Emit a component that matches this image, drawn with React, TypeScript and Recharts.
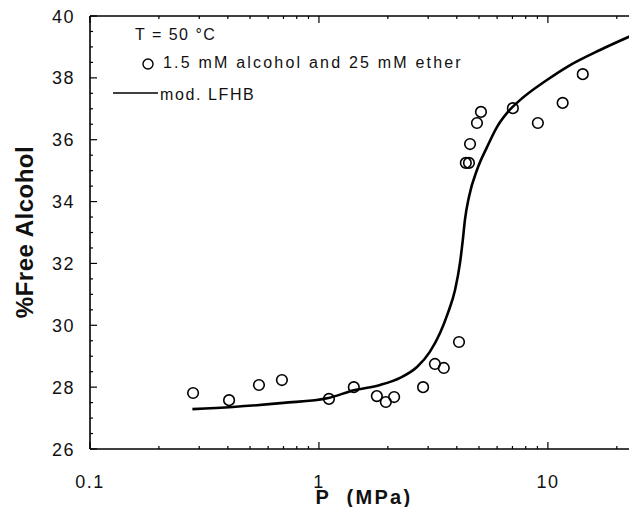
import {
  ComposedChart,
  Line,
  ReferenceLine,
  Scatter,
  XAxis,
  YAxis,
} from "recharts";

// measured pressure (MPa) and % free alcohol
const expP = [0.282, 0.405, 0.547, 0.689, 1.106, 1.42, 1.79, 1.96, 2.13, 2.85, 3.21, 3.51, 4.09, 4.38, 4.52, 4.57, 4.9, 5.1, 7.03, 9.04, 11.6, 14.2];
const expY = [27.81, 27.58, 28.07, 28.23, 27.62, 28.0, 27.71, 27.52, 27.68, 28.0, 28.75, 28.62, 29.46, 35.25, 35.25, 35.86, 36.54, 36.9, 37.02, 36.54, 37.19, 38.12];

// mod. LFHB model curve
const fitP = [0.28, 0.42, 0.7, 1.1, 1.42, 1.85, 2.26, 2.68, 3.05, 3.38, 3.66, 3.93, 4.13, 4.25, 4.34, 4.52, 4.9, 5.42, 5.99, 6.69, 7.55, 9.9, 12.1, 16.9, 22.8];
const fitY = [27.29, 27.36, 27.49, 27.65, 27.9, 28.07, 28.3, 28.65, 29.14, 29.75, 30.4, 31.14, 32.01, 32.76, 33.4, 34.15, 35.02, 35.76, 36.41, 36.9, 37.28, 37.93, 38.35, 38.9, 39.34];

const xTicks = [0.1, 0.2, 0.3, 0.4, 0.5, 0.6, 0.7, 0.8, 0.9, 1, 2, 3, 4, 5, 6, 7, 8, 9, 10, 20];
const xMajor = [0.1, 1, 10];
const yTicks = [26, 26.5, 27, 27.5, 28, 28.5, 29, 29.5, 30, 30.5, 31, 31.5, 32, 32.5, 33, 33.5, 34, 34.5, 35, 35.5, 36, 36.5, 37, 37.5, 38, 38.5, 39, 39.5, 40];
const yMajor = [26, 28, 30, 32, 34, 36, 38, 40];

const experiment = expP.map((p, i) => ({ p, y: expY[i] }));
const model = fitP.map((p, i) => ({ p, y: fitY[i] }));

// chart sits at the very top of the page (body margins collapsed away)
const W = 629;
const H = 515;
const TOP = 16;
const PLOT_W = 547;
const PLOT_H = 433;
const font = "'Liberation Sans', Arial, Helvetica, sans-serif";
const ink = "#111";

function XTick({ x, y, payload }: any) {
  const v = payload.value;
  const major = xMajor.includes(v);
  const len = major ? 7 : 3;
  return (
    <g>
      <line x1={x} x2={x} y1={y} y2={y - len} stroke="#000" strokeWidth={1.2} />
      <line x1={x} x2={x} y1={y - PLOT_H} y2={y - PLOT_H + len} stroke="#000" strokeWidth={1.2} />
      {major && (
        <text x={x} y={y + 39} textAnchor="middle" fontFamily={font} fontSize={18} letterSpacing={1.5} fill={ink}>
          {v}
        </text>
      )}
    </g>
  );
}

function YTick({ x, y, payload }: any) {
  const v = payload.value;
  const major = yMajor.includes(v);
  return (
    <g>
      <line x1={x} x2={x + (major ? 7 : 3)} y1={y} y2={y} stroke="#000" strokeWidth={1.2} />
      <line x1={x + PLOT_W} x2={x + PLOT_W - (major ? 5 : 2)} y1={y} y2={y} stroke="#000" strokeWidth={1.6} />
      {major && (
        <text x={x - 15} y={y + 6.5} textAnchor="end" fontFamily={font} fontSize={18} letterSpacing={1.5} fill={ink}>
          {v}
        </text>
      )}
    </g>
  );
}

function OpenCircle({ cx, cy }: any) {
  return <circle cx={cx} cy={cy} r={5.3} fill="none" stroke="#000" strokeWidth={1.6} />;
}

export default function App() {
  return (
    <div style={{ width: W, height: H, marginTop: -8, marginBottom: -8 }}>
      <ComposedChart width={W} height={H} margin={{ top: TOP, right: 0, bottom: 0, left: 0 }}>
        <XAxis
          dataKey="p"
          type="number"
          scale="log"
          domain={[0.1, 24.5]}
          allowDataOverflow
          ticks={xTicks}
          interval={0}
          tickSize={0}
          tickMargin={0}
          tickLine={false}
          tick={<XTick />}
          height={H - TOP - PLOT_H}
          axisLine={{ stroke: "#000", strokeWidth: 1.6 }}
        />
        <YAxis
          dataKey="y"
          type="number"
          domain={[26, 40]}
          allowDataOverflow
          ticks={yTicks}
          interval={0}
          tickSize={0}
          tickMargin={0}
          tickLine={false}
          tick={<YTick />}
          width={82}
          axisLine={{ stroke: "#000", strokeWidth: 1.6 }}
        />
        <ReferenceLine y={40} stroke="#000" strokeWidth={1.6} />
        <Line
          data={model}
          dataKey="y"
          type="monotone"
          stroke="#000"
          strokeWidth={2.6}
          dot={false}
          isAnimationActive={false}
        />
        <Scatter data={experiment} dataKey="y" shape={<OpenCircle />} isAnimationActive={false} />

        {/* legend block, top left */}
        <text x={127} y={40} fontFamily={font} fontSize={16} letterSpacing={1.5} fill={ink}>
          T = 50 °C
        </text>
        <circle cx={140} cy={64} r={5} fill="none" stroke="#000" strokeWidth={1.4} />
        <text x={155} y={68} fontFamily={font} fontSize={16} letterSpacing={2.2} fill={ink}>
          1.5 mM alcohol and 25 mM ether
        </text>
        <line x1={105} x2={150} y1={93} y2={93} stroke="#000" strokeWidth={1.6} />
        <text x={152} y={100} fontFamily={font} fontSize={16} letterSpacing={1.6} fill={ink}>
          mod. LFHB
        </text>

        {/* axis titles */}
        <text
          x={25}
          y={232}
          transform="rotate(-90 25 232)"
          textAnchor="middle"
          fontFamily={font}
          fontSize={24}
          fontWeight="bold"
          letterSpacing={0.5}
          fill={ink}
        >
          %Free  Alcohol
        </text>
        <text x={356} y={504} textAnchor="middle" fontFamily={font} fontSize={20} fontWeight="bold" letterSpacing={2.3} fill={ink} style={{ whiteSpace: "pre" }}>
          P  (MPa)
        </text>
      </ComposedChart>
    </div>
  );
}
